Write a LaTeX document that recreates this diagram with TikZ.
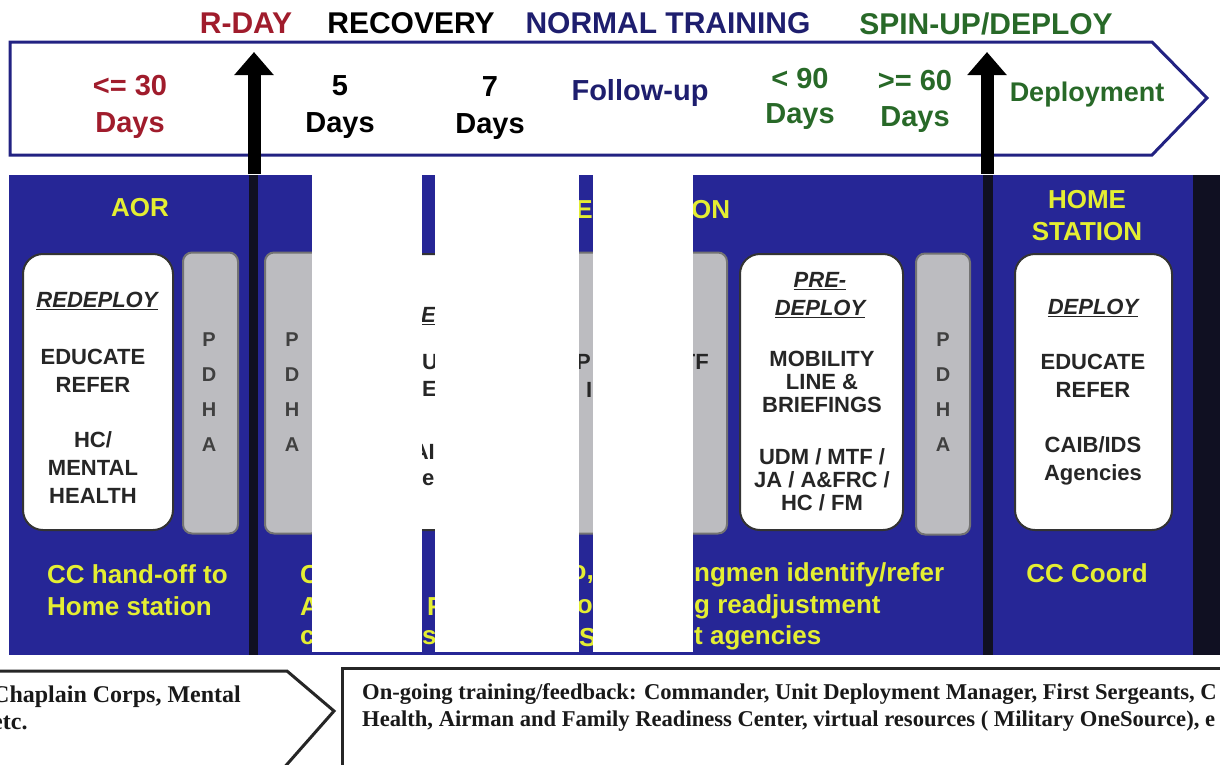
\documentclass[tikz,border=0pt]{standalone}
\usepackage{fontspec}
\setmainfont{Liberation Serif}
\setsansfont{Liberation Sans}
\usepackage{tikz}
\usetikzlibrary{arrows.meta, positioning}

\definecolor{dayred}{RGB}{160,28,44}
\definecolor{navy}{RGB}{30,30,110}
\definecolor{dgreen}{RGB}{40,105,40}
\definecolor{panelblue}{RGB}{38,38,150}
\definecolor{divider}{RGB}{16,16,34}
\definecolor{ylw}{RGB}{228,238,50}
\definecolor{pdhagray}{RGB}{188,188,192}
\definecolor{bannerline}{RGB}{34,34,130}

\begin{document}
\begin{tikzpicture}[
    x=1pt, y=-1pt,
    phase/.style={font=\sffamily\bfseries\fontsize{30}{32}\selectfont, inner sep=0pt},
    days/.style={font=\sffamily\bfseries\fontsize{29}{37}\selectfont, align=center, inner sep=0pt},
    region/.style={font=\sffamily\bfseries\fontsize{26}{32}\selectfont, text=ylw, align=center, inner sep=0pt},
    task/.style={font=\sffamily\bfseries\fontsize{22}{28}\selectfont, text=black!85, align=center, inner sep=0pt},
    tight/.style={font=\sffamily\bfseries\fontsize{22}{23}\selectfont},
    stepbox/.style={draw=black!80, line width=2pt, fill=white, rounded corners=20pt, minimum height=276pt},
    pdha/.style={draw=black!55, line width=2pt, fill=pdhagray, rounded corners=9pt, minimum height=281pt},
    letter/.style={font=\sffamily\bfseries\fontsize{20}{20}\selectfont, text=black!75, inner sep=0pt},
    note/.style={font=\sffamily\bfseries\fontsize{26}{32}\selectfont, text=ylw, align=left, inner sep=0pt},
    bigarrow/.style={line width=13pt, -{Triangle[width=38pt, length=23pt]}},
    foot/.style={font=\rmfamily\bfseries\fontsize{22.6}{27}\selectfont, text=black!90, align=left, inner sep=0pt}
]
\useasboundingbox (0,0) rectangle (1220,764);

% Phases
\node[phase, text=dayred] (rday) at (246,23) {R-DAY};
\node[phase] (recovery) at (411,23) {RECOVERY};
\node[phase, text=navy] (normal) at (668,23) {NORMAL TRAINING};
\node[phase, text=dgreen] (spinup) at (986,24) {SPIN-UP/DEPLOY};

% Timeline banner
\draw[bannerline, line width=3pt] (10,42) -- (1152,42) -- (1207,98) -- (1152,155) -- (10,155) -- cycle;
\node[days, text=dayred] (d30) at (130,107) {<= 30\\Days};
\node[days] (d5) at (340,107) {5\\Days};
\node[days] (d7) at (490,108) {7\\Days};
\node[phase, text=navy, font=\sffamily\bfseries\fontsize{29}{31}\selectfont] (followup) at (640,93) {Follow-up};
\node[days, text=dgreen, font=\sffamily\bfseries\fontsize{29}{35}\selectfont] (d90) at (800,99) {< 90\\Days};
\node[days, text=dgreen, font=\sffamily\bfseries\fontsize{29}{36}\selectfont] (d60) at (915,101) {>= 60\\Days};
\node[phase, text=dgreen, font=\sffamily\bfseries\fontsize{27}{29}\selectfont] (deployment) at (1087,95) {Deployment};

% Panel
\fill[panelblue] (9,175) rectangle (1193,655);
\fill[divider] (1193,175) rectangle (1220,655);
\fill[divider] (249,175) rectangle (258,655);
\fill[divider] (983,175) rectangle (993,655);

% AOR column
\node[region] (aor) at (140,208) {AOR};
\node[stepbox, minimum width=150pt] (redeploybox) at (98,392) {};
\node[task] (redeploy) at (97,301) {\itshape\underline{REDEPLOY}};
\node[task] (educate1) at (93,371) {EDUCATE\\REFER};
\node[task] (mental) at (93,468) {HC/\\MENTAL\\HEALTH};
\node[pdha, minimum width=55pt] (pdha1) at (210.5,393) {};
\foreach \l [count=\i] in {P,D,H,A}
    \node[letter] (pdha1-\i) at (209,305+35*\i) {\l};
\node[note, anchor=west] (handoff) at (47,590) {CC hand-off to\\Home station};

% Second column (mostly blanked)
\node[pdha, minimum width=55pt] (pdha2) at (292.5,393) {};
\foreach \l [count=\i] in {P,D,H,A}
    \node[letter] (pdha2-\i) at (292,305+35*\i) {\l};
\node[stepbox, minimum width=150pt] (recoverbox) at (405,392) {};
\node[task, anchor=west] (frag1) at (421,316) {\itshape\underline{E}};
\node[task, anchor=west] (frag2) at (422,362) {U};
\node[task, anchor=west] (frag3) at (422,389) {E};
\node[task, anchor=east] (frag4) at (435,452) {AI};
\node[task, anchor=west] (frag5) at (422,480) {e};
\node[note, anchor=west] (c2a) at (300,575) {C};
\node[note, anchor=west] (c2b) at (300,607) {A};
\node[note, anchor=west] (c2c) at (300,638) {c};
\node[note, anchor=west] (c2d) at (427,607) {F};
\node[note, anchor=west] (c2e) at (422,638) {s};

% Third column (mostly blanked)
\node[pdha, minimum width=187pt] (mtfbox) at (633.5,393) {};
\node[task, anchor=west] (frag6) at (576,362) {P};
\node[task, anchor=west] (frag7) at (586,390) {I};
\node[task, anchor=east] (frag8) at (709,362) {TF};
\node[region, anchor=east] (hdr3a) at (593,210) {ME};
\node[region, anchor=west] (hdr3b) at (691,210) {ON};
\node[note, anchor=east] (c3a) at (594,575) {o,};
\node[note, anchor=east] (c3b) at (593,607) {o};
\node[note, anchor=west] (c3c) at (579,638) {S};

% Pre-deploy column
\node[stepbox, minimum width=163pt] (predeploybox) at (821.5,392) {};
\node[task] (predeploy) at (820,295) {\itshape\underline{PRE-}\\\itshape\underline{DEPLOY}};
\node[task, tight] (mobility) at (822,382) {MOBILITY\\LINE \&\\BRIEFINGS};
\node[task, tight] (udm) at (822,480) {UDM / MTF /\\JA / A\&FRC /\\HC / FM};
\node[pdha, minimum width=54pt] (pdha4) at (943,394) {};
\foreach \l [count=\i] in {P,D,H,A}
    \node[letter] (pdha4-\i) at (943,305+35*\i) {\l};
\node[note, anchor=west] (wing1) at (694,575) {ngmen identify/refer};
\node[note, anchor=west] (wing2) at (694,607) {g readjustment};
\node[note, anchor=west] (wing3) at (694,638) {t agencies};

% Home station column
\node[region] (home) at (1087,216) {HOME\\STATION};
\node[stepbox, minimum width=157pt] (deploybox) at (1093.5,392) {};
\node[task] (deploy) at (1093,308) {\itshape\underline{DEPLOY}};
\node[task] (educate5) at (1093,376) {EDUCATE\\REFER};
\node[task] (caib) at (1093,461) {CAIB/IDS\\Agencies};
\node[region] (coord) at (1087,573) {CC Coord};

% Blanked areas
\fill[white] (312,171) rectangle (422,652);
\fill[white] (435,171) rectangle (579,652);
\fill[white] (593,171) rectangle (693,652);

% Markers
\coordinate (rdayfoot) at (254,174);
\coordinate (rdaytip) at (254,52);
\coordinate (deployfoot) at (987,174);
\coordinate (deploytip) at (987,52);
\draw[bigarrow] (rdayfoot) -- (rdaytip);
\draw[bigarrow] (deployfoot) -- (deploytip);

% Support boxes
\draw[black!85, line width=3pt] (-5,671) -- (287,671) -- (334,711) -- (282,770);
\draw[black!85, line width=3pt] (1230,668) -- (342,668) -- (342,770);
\node[foot, anchor=west, font=\rmfamily\bfseries\fontsize{24}{27}\selectfont] (chaplain) at (-8,708) {Chaplain Corps, Mental\\etc.};
\node[foot, anchor=west] (ongoing) at (362,707) {On-going training/feedback: Commander, Unit Deployment Manager, First Sergeants, C\\Health, Airman and Family Readiness Center, virtual resources ( Military OneSource), e};

\end{tikzpicture}
\end{document}
